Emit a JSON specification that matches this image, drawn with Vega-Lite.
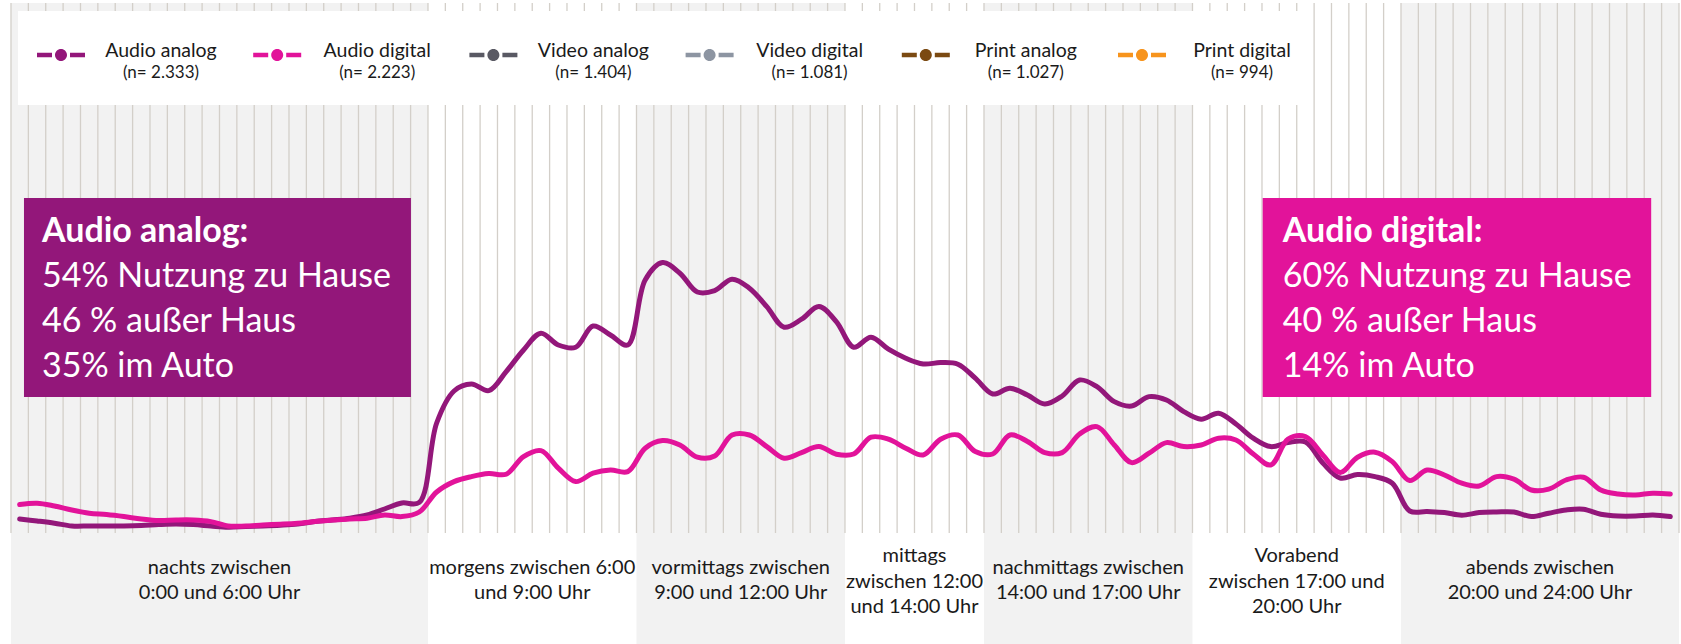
{
  "$schema": "https://vega.github.io/schema/vega-lite/v6.json",
  "width": 1681,
  "height": 644,
  "autosize": {"type": "none"},
  "padding": 0,
  "background": "white",
  "config": {"view": {"stroke": null}, "font": "Lato", "text": {"font": "Lato"}},
  "datasets": {
    "verlauf": [
      {"zeit":0.125,"audio_analog":0.70,"audio_digital":1.42},
      {"zeit":0.375,"audio_analog":0.60,"audio_digital":1.49},
      {"zeit":0.625,"audio_analog":0.49,"audio_digital":1.35},
      {"zeit":0.875,"audio_analog":0.35,"audio_digital":1.15},
      {"zeit":1.125,"audio_analog":0.35,"audio_digital":0.99},
      {"zeit":1.375,"audio_analog":0.35,"audio_digital":0.92},
      {"zeit":1.625,"audio_analog":0.35,"audio_digital":0.82},
      {"zeit":1.875,"audio_analog":0.37,"audio_digital":0.70},
      {"zeit":2.125,"audio_analog":0.42,"audio_digital":0.62},
      {"zeit":2.375,"audio_analog":0.45,"audio_digital":0.65},
      {"zeit":2.625,"audio_analog":0.42,"audio_digital":0.65},
      {"zeit":2.875,"audio_analog":0.35,"audio_digital":0.57},
      {"zeit":3.125,"audio_analog":0.29,"audio_digital":0.35},
      {"zeit":3.375,"audio_analog":0.32,"audio_digital":0.35},
      {"zeit":3.625,"audio_analog":0.35,"audio_digital":0.40},
      {"zeit":3.875,"audio_analog":0.39,"audio_digital":0.44},
      {"zeit":4.125,"audio_analog":0.45,"audio_digital":0.49},
      {"zeit":4.375,"audio_analog":0.57,"audio_digital":0.57},
      {"zeit":4.625,"audio_analog":0.65,"audio_digital":0.65},
      {"zeit":4.875,"audio_analog":0.74,"audio_digital":0.70},
      {"zeit":5.125,"audio_analog":0.90,"audio_digital":0.74},
      {"zeit":5.375,"audio_analog":1.20,"audio_digital":0.90},
      {"zeit":5.625,"audio_analog":1.50,"audio_digital":0.82},
      {"zeit":5.875,"audio_analog":1.53,"audio_digital":1.05},
      {"zeit":6.125,"audio_analog":5.50,"audio_digital":2.05},
      {"zeit":6.375,"audio_analog":7.10,"audio_digital":2.57},
      {"zeit":6.625,"audio_analog":7.45,"audio_digital":2.82},
      {"zeit":6.875,"audio_analog":7.12,"audio_digital":2.97},
      {"zeit":7.125,"audio_analog":8.07,"audio_digital":2.94},
      {"zeit":7.375,"audio_analog":9.15,"audio_digital":3.82},
      {"zeit":7.625,"audio_analog":9.99,"audio_digital":4.12},
      {"zeit":7.875,"audio_analog":9.40,"audio_digital":3.24},
      {"zeit":8.125,"audio_analog":9.29,"audio_digital":2.57},
      {"zeit":8.375,"audio_analog":10.35,"audio_digital":2.99},
      {"zeit":8.625,"audio_analog":9.90,"audio_digital":3.15},
      {"zeit":8.875,"audio_analog":9.40,"audio_digital":3.07},
      {"zeit":9.125,"audio_analog":12.65,"audio_digital":4.24},
      {"zeit":9.375,"audio_analog":13.52,"audio_digital":4.62},
      {"zeit":9.625,"audio_analog":12.99,"audio_digital":4.40},
      {"zeit":9.875,"audio_analog":12.05,"audio_digital":3.79},
      {"zeit":10.125,"audio_analog":12.12,"audio_digital":3.85},
      {"zeit":10.375,"audio_analog":12.69,"audio_digital":4.90},
      {"zeit":10.625,"audio_analog":12.24,"audio_digital":4.90},
      {"zeit":10.875,"audio_analog":11.32,"audio_digital":4.32},
      {"zeit":11.125,"audio_analog":10.29,"audio_digital":3.74},
      {"zeit":11.375,"audio_analog":10.69,"audio_digital":4.02},
      {"zeit":11.625,"audio_analog":11.32,"audio_digital":4.32},
      {"zeit":11.875,"audio_analog":10.57,"audio_digital":3.94},
      {"zeit":12.125,"audio_analog":9.29,"audio_digital":3.95},
      {"zeit":12.375,"audio_analog":9.79,"audio_digital":4.79},
      {"zeit":12.625,"audio_analog":9.19,"audio_digital":4.69},
      {"zeit":12.875,"audio_analog":8.74,"audio_digital":4.24},
      {"zeit":13.125,"audio_analog":8.45,"audio_digital":3.90},
      {"zeit":13.375,"audio_analog":8.52,"audio_digital":4.69},
      {"zeit":13.625,"audio_analog":8.44,"audio_digital":4.90},
      {"zeit":13.875,"audio_analog":7.74,"audio_digital":4.07},
      {"zeit":14.125,"audio_analog":6.95,"audio_digital":3.95},
      {"zeit":14.375,"audio_analog":7.24,"audio_digital":4.90},
      {"zeit":14.625,"audio_analog":6.90,"audio_digital":4.58},
      {"zeit":14.875,"audio_analog":6.45,"audio_digital":4.02},
      {"zeit":15.125,"audio_analog":6.85,"audio_digital":4.02},
      {"zeit":15.375,"audio_analog":7.65,"audio_digital":4.95},
      {"zeit":15.625,"audio_analog":7.32,"audio_digital":5.32},
      {"zeit":15.875,"audio_analog":6.57,"audio_digital":4.40},
      {"zeit":16.125,"audio_analog":6.35,"audio_digital":3.52},
      {"zeit":16.375,"audio_analog":6.82,"audio_digital":3.99},
      {"zeit":16.625,"audio_analog":6.65,"audio_digital":4.52},
      {"zeit":16.875,"audio_analog":6.07,"audio_digital":4.32},
      {"zeit":17.125,"audio_analog":5.69,"audio_digital":4.40},
      {"zeit":17.375,"audio_analog":5.99,"audio_digital":4.74},
      {"zeit":17.625,"audio_analog":5.45,"audio_digital":4.65},
      {"zeit":17.875,"audio_analog":4.74,"audio_digital":3.95},
      {"zeit":18.125,"audio_analog":4.32,"audio_digital":3.40},
      {"zeit":18.375,"audio_analog":4.52,"audio_digital":4.69},
      {"zeit":18.625,"audio_analog":4.55,"audio_digital":4.82},
      {"zeit":18.875,"audio_analog":3.50,"audio_digital":3.90},
      {"zeit":19.125,"audio_analog":2.75,"audio_digital":3.03},
      {"zeit":19.375,"audio_analog":2.92,"audio_digital":3.79},
      {"zeit":19.625,"audio_analog":2.82,"audio_digital":4.04},
      {"zeit":19.875,"audio_analog":2.49,"audio_digital":3.57},
      {"zeit":20.125,"audio_analog":1.10,"audio_digital":2.62},
      {"zeit":20.375,"audio_analog":1.07,"audio_digital":3.15},
      {"zeit":20.625,"audio_analog":1.02,"audio_digital":2.90},
      {"zeit":20.875,"audio_analog":0.89,"audio_digital":2.49},
      {"zeit":21.125,"audio_analog":1.02,"audio_digital":2.35},
      {"zeit":21.375,"audio_analog":1.05,"audio_digital":2.82},
      {"zeit":21.625,"audio_analog":1.05,"audio_digital":2.69},
      {"zeit":21.875,"audio_analog":0.82,"audio_digital":2.15},
      {"zeit":22.125,"audio_analog":0.99,"audio_digital":2.19},
      {"zeit":22.375,"audio_analog":1.15,"audio_digital":2.65},
      {"zeit":22.625,"audio_analog":1.19,"audio_digital":2.79},
      {"zeit":22.875,"audio_analog":0.94,"audio_digital":2.15},
      {"zeit":23.125,"audio_analog":0.85,"audio_digital":1.95},
      {"zeit":23.375,"audio_analog":0.85,"audio_digital":1.90},
      {"zeit":23.625,"audio_analog":0.90,"audio_digital":1.99},
      {"zeit":23.875,"audio_analog":0.82,"audio_digital":1.95}
    ],
    "raster": [
      {"t":0},{"t":0.25},{"t":0.5},{"t":0.75},{"t":1},{"t":1.25},{"t":1.5},{"t":1.75},
      {"t":2},{"t":2.25},{"t":2.5},{"t":2.75},{"t":3},{"t":3.25},{"t":3.5},{"t":3.75},
      {"t":4},{"t":4.25},{"t":4.5},{"t":4.75},{"t":5},{"t":5.25},{"t":5.5},{"t":5.75},
      {"t":6},{"t":6.25},{"t":6.5},{"t":6.75},{"t":7},{"t":7.25},{"t":7.5},{"t":7.75},
      {"t":8},{"t":8.25},{"t":8.5},{"t":8.75},{"t":9},{"t":9.25},{"t":9.5},{"t":9.75},
      {"t":10},{"t":10.25},{"t":10.5},{"t":10.75},{"t":11},{"t":11.25},{"t":11.5},{"t":11.75},
      {"t":12},{"t":12.25},{"t":12.5},{"t":12.75},{"t":13},{"t":13.25},{"t":13.5},{"t":13.75},
      {"t":14},{"t":14.25},{"t":14.5},{"t":14.75},{"t":15},{"t":15.25},{"t":15.5},{"t":15.75},
      {"t":16},{"t":16.25},{"t":16.5},{"t":16.75},{"t":17},{"t":17.25},{"t":17.5},{"t":17.75},
      {"t":18},{"t":18.25},{"t":18.5},{"t":18.75},{"t":19},{"t":19.25},{"t":19.5},{"t":19.75},
      {"t":20},{"t":20.25},{"t":20.5},{"t":20.75},{"t":21},{"t":21.25},{"t":21.5},{"t":21.75},
      {"t":22},{"t":22.25},{"t":22.5},{"t":22.75},{"t":23},{"t":23.25},{"t":23.5},{"t":23.75},
      {"t":24}
    ],
    "tageszeiten": [
      {"nr":1,"von":0,"bis":6,"mitte":3,"zeilen":2,"label":"nachts zwischen\n0:00 und 6:00 Uhr"},
      {"nr":2,"von":6,"bis":9,"mitte":7.5,"zeilen":2,"label":"morgens zwischen 6:00\nund 9:00 Uhr"},
      {"nr":3,"von":9,"bis":12,"mitte":10.5,"zeilen":2,"label":"vormittags zwischen\n9:00 und 12:00 Uhr"},
      {"nr":4,"von":12,"bis":14,"mitte":13,"zeilen":3,"label":"mittags\nzwischen 12:00\nund 14:00 Uhr"},
      {"nr":5,"von":14,"bis":17,"mitte":15.5,"zeilen":2,"label":"nachmittags zwischen\n14:00 und 17:00 Uhr"},
      {"nr":6,"von":17,"bis":20,"mitte":18.5,"zeilen":3,"label":"Vorabend\nzwischen 17:00 und\n20:00 Uhr"},
      {"nr":7,"von":20,"bis":24,"mitte":22,"zeilen":2,"label":"abends zwischen\n20:00 und 24:00 Uhr"}
    ],
    "legende": [
      {"medium":"Audio analog","n":"(n= 2.333)"},
      {"medium":"Audio digital","n":"(n= 2.223)"},
      {"medium":"Video analog","n":"(n= 1.404)"},
      {"medium":"Video digital","n":"(n= 1.081)"},
      {"medium":"Print analog","n":"(n= 1.027)"},
      {"medium":"Print digital","n":"(n= 994)"}
    ]
  },
  "layer": [
    {
      "layer": [
        {
          "data": {"name": "tageszeiten"},
          "transform": [{"filter": "datum.nr % 2 == 1"}],
          "mark": {"type": "rect", "color": "#f2f2f2"},
          "encoding": {
            "x": {"field": "von", "type": "quantitative", "scale": {"domain": [-0.158, 24.029], "nice": false, "zero": false}, "axis": null},
            "x2": {"field": "bis"},
            "y": {"datum": -5.55, "type": "quantitative", "scale": {"domain": [-5.55, 26.65], "nice": false, "zero": false}, "axis": null},
            "y2": {"datum": 26.5}
          }
        },
        {
          "data": {"name": "raster"},
          "mark": {"type": "rule", "color": "#d3cfc9", "strokeWidth": 1.3},
          "encoding": {
            "x": {"field": "t", "type": "quantitative", "scale": {"domain": [-0.158, 24.029], "nice": false, "zero": false}, "axis": null},
            "y": {"datum": 0, "type": "quantitative", "scale": {"domain": [-5.55, 26.65], "nice": false, "zero": false}, "axis": null},
            "y2": {"datum": 26.5}
          }
        },
        {
          "data": {"values": [{"box": "Legende"}]},
          "mark": {"type": "rect", "color": "white"},
          "encoding": {
            "x": {"datum": 0.1, "type": "quantitative", "scale": {"domain": [-0.158, 24.029], "nice": false, "zero": false}, "axis": null},
            "x2": {"datum": 18.62},
            "y": {"datum": 26.1, "type": "quantitative", "scale": {"domain": [-5.55, 26.65], "nice": false, "zero": false}, "axis": null},
            "y2": {"datum": 21.4}
          }
        },
        {
          "data": {"values": [{"box": "Audio analog"}]},
          "mark": {"type": "rect", "color": "#93177a"},
          "encoding": {
            "x": {"datum": 0.187, "type": "quantitative", "scale": {"domain": [-0.158, 24.029], "nice": false, "zero": false}, "axis": null},
            "x2": {"datum": 5.755},
            "y": {"datum": 16.75, "type": "quantitative", "scale": {"domain": [-5.55, 26.65], "nice": false, "zero": false}, "axis": null},
            "y2": {"datum": 6.8}
          }
        },
        {
          "data": {"values": [{"box": "Audio digital"}]},
          "mark": {"type": "rect", "color": "#e2139a"},
          "encoding": {
            "x": {"datum": 18.01, "type": "quantitative", "scale": {"domain": [-0.158, 24.029], "nice": false, "zero": false}, "axis": null},
            "x2": {"datum": 23.6},
            "y": {"datum": 16.75, "type": "quantitative", "scale": {"domain": [-5.55, 26.65], "nice": false, "zero": false}, "axis": null},
            "y2": {"datum": 6.8}
          }
        },
        {
          "data": {"values": [{"titel": "Audio analog:", "zeilen": "54% Nutzung zu Hause\n46 % außer Haus\n35% im Auto"}]},
          "layer": [
            {
              "mark": {"type": "text", "align": "left", "baseline": "alphabetic", "fontSize": 34, "fontWeight": "bold", "color": "white"},
              "encoding": {
                "text": {"field": "titel"},
                "x": {"datum": 0.446, "type": "quantitative", "scale": {"domain": [-0.158, 24.029], "nice": false, "zero": false}, "axis": null},
                "y": {"datum": 14.565, "type": "quantitative", "scale": {"domain": [-5.55, 26.65], "nice": false, "zero": false}, "axis": null}
              }
            },
            {
              "mark": {"type": "text", "align": "left", "baseline": "alphabetic", "fontSize": 34, "lineBreak": "\n", "lineHeight": 45, "color": "white"},
              "encoding": {
                "text": {"field": "zeilen"},
                "x": {"datum": 0.446, "type": "quantitative", "scale": {"domain": [-0.158, 24.029], "nice": false, "zero": false}, "axis": null},
                "y": {"datum": 12.315, "type": "quantitative", "scale": {"domain": [-5.55, 26.65], "nice": false, "zero": false}, "axis": null}
              }
            }
          ]
        },
        {
          "data": {"values": [{"titel": "Audio digital:", "zeilen": "60% Nutzung zu Hause\n40 % außer Haus\n14% im Auto"}]},
          "layer": [
            {
              "mark": {"type": "text", "align": "left", "baseline": "alphabetic", "fontSize": 34, "fontWeight": "bold", "color": "white"},
              "encoding": {
                "text": {"field": "titel"},
                "x": {"datum": 18.3, "type": "quantitative", "scale": {"domain": [-0.158, 24.029], "nice": false, "zero": false}, "axis": null},
                "y": {"datum": 14.565, "type": "quantitative", "scale": {"domain": [-5.55, 26.65], "nice": false, "zero": false}, "axis": null}
              }
            },
            {
              "mark": {"type": "text", "align": "left", "baseline": "alphabetic", "fontSize": 34, "lineBreak": "\n", "lineHeight": 45, "color": "white"},
              "encoding": {
                "text": {"field": "zeilen"},
                "x": {"datum": 18.3, "type": "quantitative", "scale": {"domain": [-0.158, 24.029], "nice": false, "zero": false}, "axis": null},
                "y": {"datum": 12.315, "type": "quantitative", "scale": {"domain": [-5.55, 26.65], "nice": false, "zero": false}, "axis": null}
              }
            }
          ]
        },
        {
          "data": {"name": "verlauf"},
          "mark": {"type": "line", "color": "#93177a", "strokeWidth": 5, "interpolate": "catmull-rom", "strokeCap": "round", "strokeJoin": "round"},
          "encoding": {
            "x": {"field": "zeit", "type": "quantitative", "scale": {"domain": [-0.158, 24.029], "nice": false, "zero": false}, "axis": null},
            "y": {"field": "audio_analog", "type": "quantitative", "scale": {"domain": [-5.55, 26.65], "nice": false, "zero": false}, "axis": null}
          }
        },
        {
          "data": {"name": "verlauf"},
          "mark": {"type": "line", "color": "#e2139a", "strokeWidth": 5, "interpolate": "catmull-rom", "strokeCap": "round", "strokeJoin": "round"},
          "encoding": {
            "x": {"field": "zeit", "type": "quantitative", "scale": {"domain": [-0.158, 24.029], "nice": false, "zero": false}, "axis": null},
            "y": {"field": "audio_digital", "type": "quantitative", "scale": {"domain": [-5.55, 26.65], "nice": false, "zero": false}, "axis": null}
          }
        },
        {
          "data": {"name": "tageszeiten"},
          "transform": [{"filter": "datum.zeilen == 2"}],
          "mark": {"type": "text", "align": "center", "baseline": "alphabetic", "fontSize": 20, "lineBreak": "\n", "lineHeight": 25, "color": "#1a1a1a"},
          "encoding": {
            "text": {"field": "label"},
            "x": {"field": "mitte", "type": "quantitative", "scale": {"domain": [-0.158, 24.029], "nice": false, "zero": false}, "axis": null},
            "y": {"datum": -2.05, "type": "quantitative", "scale": {"domain": [-5.55, 26.65], "nice": false, "zero": false}, "axis": null}
          }
        },
        {
          "data": {"name": "tageszeiten"},
          "transform": [{"filter": "datum.zeilen == 3"}],
          "mark": {"type": "text", "align": "center", "baseline": "alphabetic", "fontSize": 20, "lineBreak": "\n", "lineHeight": 25.5, "color": "#1a1a1a"},
          "encoding": {
            "text": {"field": "label"},
            "x": {"field": "mitte", "type": "quantitative", "scale": {"domain": [-0.158, 24.029], "nice": false, "zero": false}, "axis": null},
            "y": {"datum": -1.45, "type": "quantitative", "scale": {"domain": [-5.55, 26.65], "nice": false, "zero": false}, "axis": null}
          }
        }
      ]
    },
    {
      "data": {"name": "legende"},
      "encoding": {
        "x": {"field": "medium", "type": "nominal", "sort": null, "scale": {"type": "point", "domain": ["Audio analog", "Audio digital", "Video analog", "Video digital", "Print analog", "Print digital"], "range": [61, 1142], "padding": 0}, "axis": null}
      },
      "layer": [
        {
          "mark": {"type": "point", "shape": "M-1,-0.094H-0.375V0.094H-1Z M0.375,-0.094H1V0.094H0.375Z M0.25,0A0.25,0.25 0 1,1 -0.25,0A0.25,0.25 0 1,1 0.25,0Z", "filled": true, "opacity": 1, "size": 2304, "strokeWidth": 0},
          "encoding": {
            "y": {"datum": 23.9, "type": "quantitative", "scale": {"domain": [-5.55, 26.65], "nice": false, "zero": false}, "axis": null},
            "color": {"field": "medium", "type": "nominal", "scale": {"domain": ["Audio analog", "Audio digital", "Video analog", "Video digital", "Print analog", "Print digital"], "range": ["#93177a", "#e2139a", "#595963", "#8d95a2", "#7b4a12", "#f7941d"]}, "legend": null}
          }
        },
        {
          "mark": {"type": "text", "align": "center", "baseline": "alphabetic", "dx": 100, "fontSize": 19.5, "color": "#1a1a1a"},
          "encoding": {
            "text": {"field": "medium"},
            "y": {"datum": 23.8, "type": "quantitative", "scale": {"domain": [-5.55, 26.65], "nice": false, "zero": false}, "axis": null}
          }
        },
        {
          "mark": {"type": "text", "align": "center", "baseline": "alphabetic", "dx": 100, "fontSize": 17, "color": "#1a1a1a"},
          "encoding": {
            "text": {"field": "n"},
            "y": {"datum": 22.75, "type": "quantitative", "scale": {"domain": [-5.55, 26.65], "nice": false, "zero": false}, "axis": null}
          }
        }
      ]
    }
  ],
  "resolve": {"scale": {"x": "independent"}}
}
